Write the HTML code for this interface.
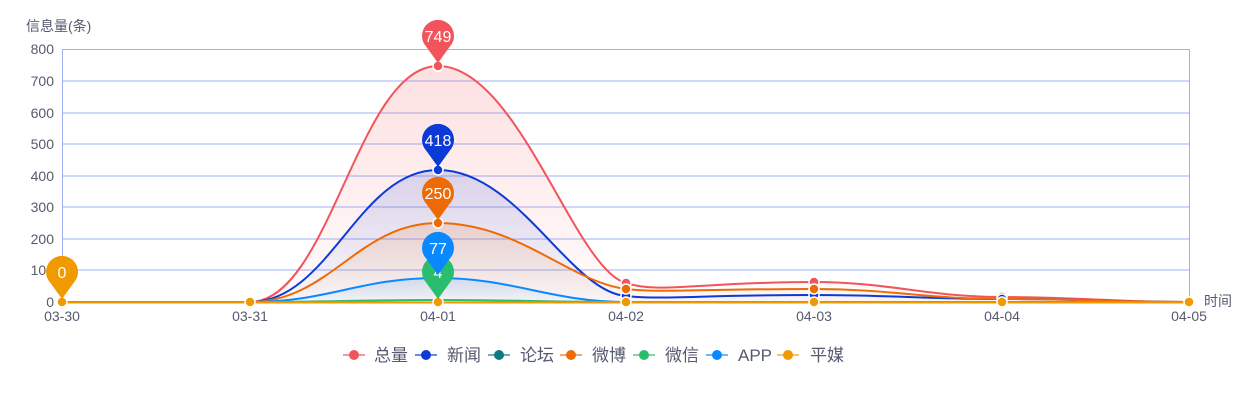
<!DOCTYPE html>
<html><head><meta charset="utf-8"><style>
body{margin:0;background:#fff}
svg{display:block;font-family:"Liberation Sans","Noto Sans CJK SC",sans-serif}
</style></head><body>
<svg width="1260" height="400" viewBox="0 0 1260 400">
<defs>
<linearGradient id="gr" x1="0" y1="0" x2="0" y2="1"><stop offset="0" stop-color="#f2545b" stop-opacity="0.18"/><stop offset="1" stop-color="#f2545b" stop-opacity="0.02"/></linearGradient>
<linearGradient id="gb" x1="0" y1="0" x2="0" y2="1"><stop offset="0" stop-color="#0c3ad6" stop-opacity="0.15"/><stop offset="1" stop-color="#0c3ad6" stop-opacity="0.02"/></linearGradient>
<linearGradient id="go" x1="0" y1="0" x2="0" y2="1"><stop offset="0" stop-color="#ee6a05" stop-opacity="0.15"/><stop offset="1" stop-color="#ee6a05" stop-opacity="0.02"/></linearGradient>
<linearGradient id="ga" x1="0" y1="0" x2="0" y2="1"><stop offset="0" stop-color="#0a88ff" stop-opacity="0.15"/><stop offset="1" stop-color="#0a88ff" stop-opacity="0.02"/></linearGradient>
<path id="pin" d="M-11.5,11 A16,16 0 1 1 11.5,11 L0,27 Z"/>
</defs>
<g stroke="#9fb1f5" stroke-width="1">
<line x1="62" y1="49.5" x2="1189" y2="49.5"/>
<line x1="62" y1="81" x2="1189" y2="81"/>
<line x1="62" y1="113" x2="1189" y2="113"/>
<line x1="62" y1="144" x2="1189" y2="144"/>
<line x1="62" y1="176" x2="1189" y2="176"/>
<line x1="62" y1="207" x2="1189" y2="207"/>
<line x1="62" y1="239" x2="1189" y2="239"/>
<line x1="62" y1="270" x2="1189" y2="270"/>
<line x1="62.5" y1="49" x2="62.5" y2="302"/>
<line x1="1189.5" y1="49" x2="1189.5" y2="302"/>
</g>
<g fill="#555a70" font-size="14" text-anchor="end">
<text x="54" y="54">800</text><text x="54" y="86">700</text><text x="54" y="118">600</text><text x="54" y="149">500</text><text x="54" y="181">400</text><text x="54" y="212">300</text><text x="54" y="244">200</text><text x="54" y="275">100</text><text x="54" y="307">0</text>
</g>
<text x="26" y="31" font-size="14" fill="#555a70">信息量(条)</text>
<g fill="#555a70" font-size="14" text-anchor="middle">
<text x="62" y="321">03-30</text><text x="250" y="321">03-31</text><text x="438" y="321">04-01</text><text x="626" y="321">04-02</text><text x="814" y="321">04-03</text><text x="1002" y="321">04-04</text><text x="1189" y="321">04-05</text>
</g>
<text x="1204" y="306" font-size="14" fill="#555a70">时间</text>
<path d="M62,302 L250,302 C330,302 358,66 438,66 C518,66 575,270 626,283 C660,294 700,292 814,282 C889,282 927,297 1002,297 C1077,297 1114,302 1189,302 Z" fill="url(#gr)"/>
<path d="M62,302 L250,302 C330,302 358,170 438,170 C518,170 570,292 626,296 C660,300 700,295 814,295 C889,295 927,299 1002,299 C1077,299 1114,302 1189,302 Z" fill="url(#gb)"/>
<path d="M62,302 L250,302 C330,302 358,223 438,223 C518,223 570,282 626,289 C660,293 700,289 814,289 C889,289 927,299 1002,299 C1077,299 1114,302 1189,302 Z" fill="url(#go)"/>
<path d="M62,302 L250,302 C330,302 358,278 438,278 C513,278 551,302 626,302 L1189,302 Z" fill="url(#ga)"/>
<g fill="none" stroke-width="2">
<path d="M62,302 L250,302 C330,302 358,66 438,66 C518,66 575,270 626,283 C660,294 700,282 814,282 C889,282 927,297 1002,297 C1077,297 1114,302 1189,302" stroke="#f2545b"/>
<path d="M62,302 L250,302 C330,302 358,170 438,170 C518,170 570,292 626,296 C660,300 700,295 814,295 C889,295 927,299 1002,299 C1077,299 1114,302 1189,302" stroke="#0c3ad6"/>
<path d="M62,302 L250,302 C330,302 358,223 438,223 C518,223 570,282 626,289 C660,293 700,289 814,289 C889,289 927,299 1002,299 C1077,299 1114,302 1189,302" stroke="#ee6a05"/>
<path d="M62,302 L250,302 C330,302 358,278 438,278 C513,278 551,302 626,302 L1189,302" stroke="#0a88ff"/>
<path d="M62,302 L250,302 C325,302 363,300 438,300 C513,300 551,302 626,302 L1189,302" stroke="#2bbd6e"/>
<path d="M62,302.5 L1189,302.5" stroke="#f09a00"/>
</g>
<g stroke="#fff" stroke-width="1.5">
<circle cx="438" cy="66" r="5" fill="#f2545b"/><circle cx="626" cy="283" r="5" fill="#f2545b"/><circle cx="814" cy="282" r="5" fill="#f2545b"/><circle cx="1002" cy="297" r="5" fill="#f2545b"/>
<circle cx="438" cy="170" r="5" fill="#0c3ad6"/><circle cx="626" cy="296" r="5" fill="#0c3ad6"/><circle cx="814" cy="295" r="5" fill="#0c3ad6"/><circle cx="1002" cy="299" r="5" fill="#0c3ad6"/>
<circle cx="438" cy="223" r="5" fill="#ee6a05"/><circle cx="626" cy="289" r="5" fill="#ee6a05"/><circle cx="814" cy="289" r="5" fill="#ee6a05"/>
<circle cx="62" cy="302" r="5" fill="#f09a00"/><circle cx="250" cy="302" r="5" fill="#f09a00"/><circle cx="438" cy="302" r="5" fill="#f09a00"/><circle cx="626" cy="302" r="5" fill="#f09a00"/><circle cx="814" cy="302" r="5" fill="#f09a00"/><circle cx="1002" cy="302" r="5" fill="#f09a00"/><circle cx="1189" cy="302" r="5" fill="#f09a00"/>
</g>
<g font-size="16" fill="#fff" text-anchor="middle">
<use href="#pin" x="438" y="272" fill="#2bbd6e"/><text x="438" y="278">4</text>
<use href="#pin" x="62" y="272" fill="#f09a00"/><text x="62" y="278">0</text>
<use href="#pin" x="438" y="36" fill="#f2545b"/><text x="438" y="42">749</text>
<use href="#pin" x="438" y="140" fill="#0c3ad6"/><text x="438" y="146">418</text>
<use href="#pin" x="438" y="193" fill="#ee6a05"/><text x="438" y="199">250</text>
<use href="#pin" x="438" y="248" fill="#0a88ff"/><text x="438" y="254">77</text>
</g>
<g font-size="17" fill="#555a70">
<line x1="343" y1="355" x2="365" y2="355" stroke="#f2545b" stroke-opacity="0.6" stroke-width="2"/><circle cx="354" cy="355" r="5" fill="#f2545b"/><text x="374" y="361">总量</text>
<line x1="415" y1="355" x2="437" y2="355" stroke="#0c3ad6" stroke-opacity="0.6" stroke-width="2"/><circle cx="426" cy="355" r="5" fill="#0c3ad6"/><text x="447" y="361">新闻</text>
<line x1="488" y1="355" x2="510" y2="355" stroke="#0a7a84" stroke-opacity="0.6" stroke-width="2"/><circle cx="499" cy="355" r="5" fill="#0a7a84"/><text x="520" y="361">论坛</text>
<line x1="560" y1="355" x2="582" y2="355" stroke="#ee6a05" stroke-opacity="0.6" stroke-width="2"/><circle cx="571" cy="355" r="5" fill="#ee6a05"/><text x="592" y="361">微博</text>
<line x1="633" y1="355" x2="655" y2="355" stroke="#2bbd6e" stroke-opacity="0.6" stroke-width="2"/><circle cx="644" cy="355" r="5" fill="#2bbd6e"/><text x="665" y="361">微信</text>
<line x1="706" y1="355" x2="728" y2="355" stroke="#0a88ff" stroke-opacity="0.6" stroke-width="2"/><circle cx="717" cy="355" r="5" fill="#0a88ff"/><text x="738" y="361">APP</text>
<line x1="777" y1="355" x2="799" y2="355" stroke="#f09a00" stroke-opacity="0.6" stroke-width="2"/><circle cx="788" cy="355" r="5" fill="#f09a00"/><text x="810" y="361">平媒</text>
</g>
</svg>
</body></html>
